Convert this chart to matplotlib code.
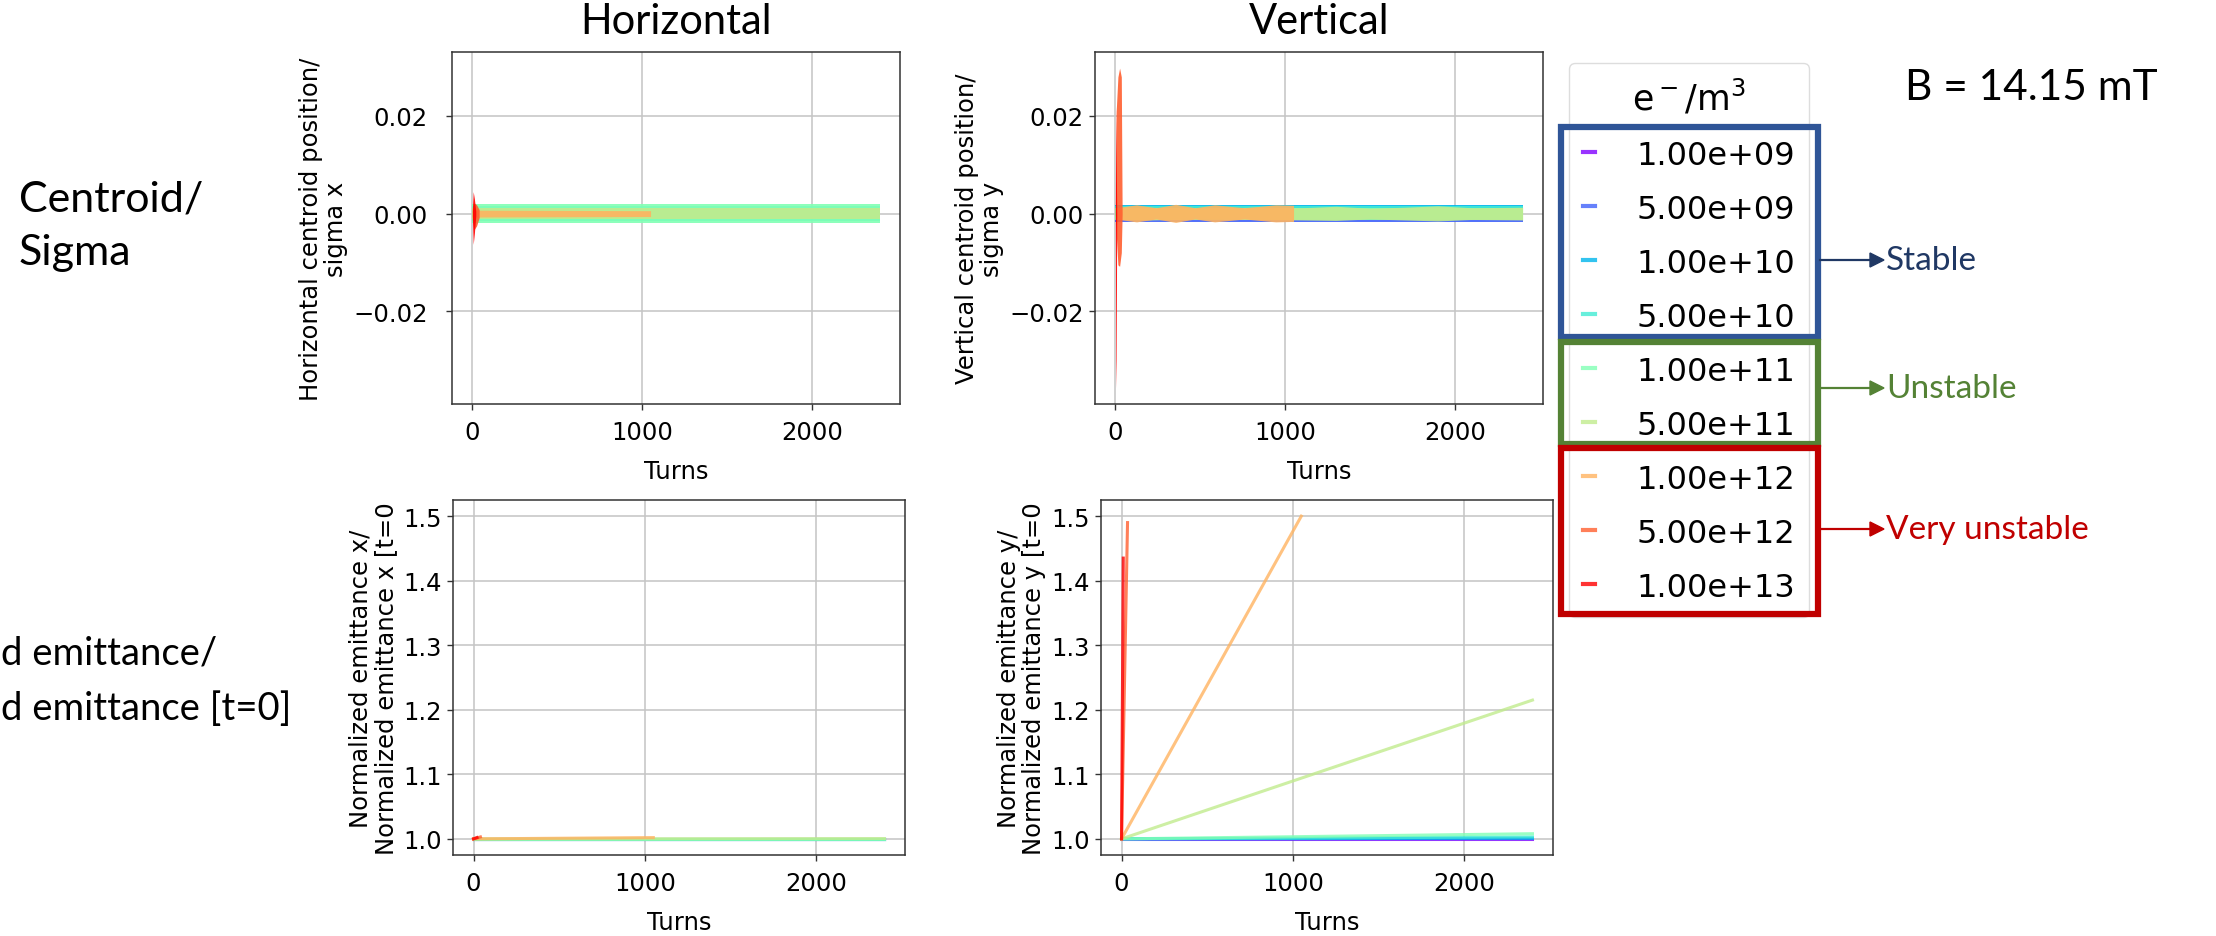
import numpy as np
import matplotlib
matplotlib.use("Agg")
import matplotlib.pyplot as plt
from matplotlib.patches import Rectangle

W, H = 2216, 937

# electron cloud densities (legend)
densities = ["1.00e+09", "5.00e+09", "1.00e+10", "5.00e+10", "1.00e+11",
             "5.00e+11", "1.00e+12", "5.00e+12", "1.00e+13"]

# horizontal centroid / sigma x : band envelopes (turn, upper, lower)
hx_turns = [[0, 2400], [0, 2400], [0, 2400], [0, 2400], [0, 2400], [0, 2400],
            [0, 30, 1050], [0, 10, 25, 40], [0, 5, 12, 20]]
hx_upper = [[0.0010, 0.0010], [0.0011, 0.0011], [0.0012, 0.0012], [0.0015, 0.0015],
            [0.0019, 0.0019], [0.0012, 0.0012],
            [0.0012, 0.0007, 0.0006], [0.0006, 0.0022, 0.0018, 0.0008],
            [0.0010, 0.0045, 0.0030, 0.0005]]
hx_lower = [[-0.0010, -0.0010], [-0.0011, -0.0011], [-0.0012, -0.0012], [-0.0015, -0.0015],
            [-0.0019, -0.0019], [-0.0012, -0.0012],
            [-0.0012, -0.0007, -0.0006], [-0.0006, -0.0033, -0.0025, -0.0008],
            [-0.0010, -0.0063, -0.0040, -0.0005]]

# vertical centroid / sigma y : band envelopes
vy_turns = [[0, 2400], [0, 2400], [0, 2400], [0, 2400], [0, 2400],
            [0, 200, 500, 800, 1100, 1300, 1500, 1700, 1900, 2100, 2400],
            [0, 125, 240, 355, 470, 585, 760, 945, 1050],
            [0, 5, 15, 25, 35, 40],
            [0, 2, 5, 8]]
vy_upper = [[0.0013, 0.0013], [0.0013, 0.0013], [0.0017, 0.0017], [0.0015, 0.0015], [0.0012, 0.0012],
            [0.0012, 0.0013, 0.0011, 0.0013, 0.0012, 0.0015, 0.0011, 0.0013, 0.0016, 0.0012, 0.0013],
            [0.0012, 0.0018, 0.0012, 0.0019, 0.0012, 0.0018, 0.0012, 0.0018, 0.0017],
            [0.0, 0.021, 0.028, 0.0298, 0.028, 0.0],
            [0.0, 0.0218, 0.012, 0.0]]
vy_lower = [[-0.0013, -0.0013], [-0.0017, -0.0017], [-0.0012, -0.0012], [-0.0012, -0.0012], [-0.0014, -0.0014],
            [-0.0012, -0.0013, -0.0011, -0.0012, -0.0013, -0.0014, -0.0011, -0.0013, -0.0015, -0.0012, -0.0013],
            [-0.0011, -0.0017, -0.0011, -0.0018, -0.0011, -0.0017, -0.0011, -0.0017, -0.0016],
            [0.0, -0.004, -0.0105, -0.0108, -0.008, 0.0],
            [0.0, -0.0357, -0.030, 0.0]]

# normalized emittance / emittance at t=0
ex_turns = [[0, 2400]] * 6 + [[0, 1050], [0, 40], [0, 20]]
ex_vals = [[1.0, 1.0], [1.0, 1.0], [1.0, 1.0], [1.0, 1.0], [1.0, 1.0], [1.0, 1.0005],
           [1.0, 1.002], [1.0, 1.003], [1.0, 1.002]]
ey_turns = [[0, 2400]] * 6 + [[0, 1050], [0, 35], [0, 10]]
ey_vals = [[1.0, 1.0], [1.0, 1.0005], [1.0, 1.001], [1.0, 1.003], [1.0, 1.008], [1.0, 1.215],
           [1.0, 1.5], [1.0, 1.49], [1.0, 1.435]]

group_names = ["Stable", "Unstable", "Very unstable"]

colors = plt.cm.rainbow(np.linspace(0, 1, len(densities)))

slide_font = ["Lato", "DejaVu Sans"]
plt.rcParams["font.family"] = ["DejaVu Sans"]
FS = 17.5


def rect(x0, y0, x1, y1):
    # pixel box (top-left origin) -> figure fraction
    return [x0 / W, 1 - y1 / H, (x1 - x0) / W, (y1 - y0) / H]


def fx(x):
    return x / W


def fy(y):
    return 1 - y / H


fig = plt.figure(figsize=(W / 100, H / 100), dpi=100)

ax_hx = fig.add_axes(rect(452, 53, 900, 405))
ax_vy = fig.add_axes(rect(1095, 53, 1543, 405))
ax_ex = fig.add_axes(rect(453, 501, 905, 856))
ax_ey = fig.add_axes(rect(1101, 501, 1553, 856))

for i in range(len(densities)):
    ax_hx.fill_between(hx_turns[i], hx_lower[i], hx_upper[i], color=colors[i], alpha=0.9, lw=0)
    ax_vy.fill_between(vy_turns[i], vy_lower[i], vy_upper[i], color=colors[i], alpha=0.9, lw=0)
    ax_ex.plot(ex_turns[i], ex_vals[i], color=colors[i], alpha=0.8, lw=2.2)
    ax_ey.plot(ey_turns[i], ey_vals[i], color=colors[i], alpha=0.8, lw=2.2, label=densities[i])

for ax in [ax_hx, ax_vy, ax_ex, ax_ey]:
    ax.set_xlim(-120, 2520)
    ax.set_xticks([0, 1000, 2000])
    ax.grid(True, color="#c4c4c4", lw=1.1)
    ax.set_axisbelow(True)
    ax.tick_params(labelsize=FS, length=4.5, width=1, color="#333333")
    ax.tick_params(axis="x", pad=7)
    for s in ax.spines.values():
        s.set_color("#333333")
        s.set_linewidth(1.1)
    ax.set_xlabel("Turns", fontsize=FS, labelpad=11)

ax_hx.tick_params(axis="y", pad=13)

for ax in [ax_hx, ax_vy]:
    ax.set_ylim(-0.039, 0.0331)
    ax.set_yticks([-0.02, 0.0, 0.02])
for ax in [ax_ex, ax_ey]:
    ax.set_ylim(0.975, 1.525)
    ax.set_yticks([1.0, 1.1, 1.2, 1.3, 1.4, 1.5])

ax_hx.set_ylabel("Horizontal centroid position/\nsigma x", fontsize=FS, linespacing=1.05)
ax_vy.set_ylabel("Vertical centroid position/\nsigma y", fontsize=FS, linespacing=1.05)
ax_ex.set_ylabel("Normalized emittance x/\nNormalized emittance x [t=0", fontsize=FS, linespacing=1.05)
ax_ey.set_ylabel("Normalized emittance y/\nNormalized emittance y [t=0", fontsize=FS, linespacing=1.05)

ax_hx.set_title("Horizontal", fontsize=30, family=slide_font, pad=14)
ax_vy.set_title("Vertical", fontsize=30, family=slide_font, pad=14)

# legend with the densities
leg = fig.legend(handles=ax_ey.get_lines(), labels=densities, title=r"e$^-$/m$^3$",
                 loc="upper left", bbox_to_anchor=(fx(1569), fy(64)), borderaxespad=0,
                 fontsize=23, title_fontsize=25, handlelength=0.35, handletextpad=1.3,
                 labelspacing=0.72, borderpad=0.45, framealpha=1, edgecolor="#dddddd")
for h in leg.legend_handles:
    h.set_linewidth(3)

# stability groups drawn over the legend
box_color = ["#2f5597", "#548235", "#c00000"]
text_color = ["#203864", "#548235", "#c00000"]
box_y = [(128, 338), (343, 445), (449, 615)]
arrow_y = [261, 389, 530]
for k in range(3):
    y0, y1 = box_y[k]
    fig.add_artist(Rectangle((fx(1561), fy(y1)), (1818 - 1561) / W, (y1 - y0) / H,
                             transform=fig.transFigure, fill=False,
                             ec=box_color[k], lw=4.5, zorder=10))
    line_c = text_color[k]
    fig.add_artist(plt.Line2D([fx(1820), fx(1874)], [fy(arrow_y[k])] * 2,
                              transform=fig.transFigure, color=line_c, lw=1.6, zorder=10))
    fig.add_artist(plt.Polygon([[fx(1870), fy(arrow_y[k] - 7)], [fx(1884), fy(arrow_y[k])],
                                [fx(1870), fy(arrow_y[k] + 7)]], closed=True,
                               transform=fig.transFigure, color=line_c, zorder=10))
    fig.text(fx(1886), fy(arrow_y[k]), group_names[k], color=text_color[k], fontsize=24,
             family=slide_font, ha="left", va="center")

fig.text(fx(1905), fy(88), "B = 14.15 mT", fontsize=30.5, family=slide_font, ha="left", va="center")

# row titles on the left of the slide (the second one is cut by the slide edge)
fig.text(fx(19), fy(211), "Centroid/", fontsize=31, family=slide_font, ha="left", va="baseline")
fig.text(fx(19), fy(265), "Sigma", fontsize=31, family=slide_font, ha="left", va="baseline")
fig.text(fx(1), fy(665), "d emittance/", fontsize=27.5, family=slide_font, ha="left", va="baseline")
fig.text(fx(1), fy(720), "d emittance [t=0]", fontsize=27.5, family=slide_font, ha="left", va="baseline")

fig.savefig("out.png", dpi=100)
